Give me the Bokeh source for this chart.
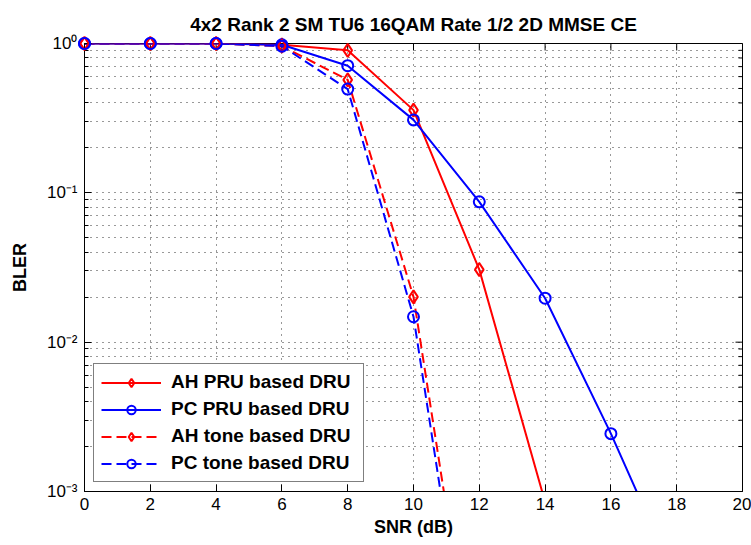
import math
from bokeh.plotting import figure
from bokeh.models import Range1d, FixedTicker, Legend, LegendItem
from bokeh.embed import file_html
from bokeh.resources import INLINE

# ---------------- data ----------------
snr_ah_pru = [0, 2, 4, 6, 8, 10, 12, 14]
bler_ah_pru = [1.0, 1.0, 1.0, 0.98, 0.90, 0.358, 0.0306, 0.00085]

snr_pc_pru = [0, 2, 4, 6, 8, 10, 12, 14, 16, 18]
bler_pc_pru = [1.0, 1.0, 1.0, 0.98, 0.71, 0.308, 0.087, 0.0197, 0.00244, 0.00025]

snr_ah_tone = [0, 2, 4, 6, 8, 10, 12]
bler_ah_tone = [1.0, 1.0, 1.0, 0.96, 0.571, 0.0201, 0.00003]

snr_pc_tone = [0, 2, 4, 6, 8, 10, 12]
bler_pc_tone = [1.0, 1.0, 1.0, 0.96, 0.495, 0.0148, 0.000021]

x_ticks = [0, 2, 4, 6, 8, 10, 12, 14, 16, 18, 20]
y_ticks = [1e-3, 1e-2, 1e-1, 1.0]
y_tick_labels = {1e-3: "10\u207b\u00b3", 1e-2: "10\u207b\u00b2", 1e-1: "10\u207b\u00b9", 1.0: "10\u2070"}
y_minor = [k * 10.0 ** e for e in (-3, -2, -1) for k in range(2, 10)]

title_text = "4x2 Rank 2 SM TU6 16QAM Rate 1/2 2D MMSE CE"
x_label = "SNR (dB)"
y_label = "BLER"
names = ["AH PRU based DRU", "PC PRU based DRU", "AH tone based DRU", "PC tone based DRU"]

FONT = "Liberation Sans"
X0, X1 = 0, 20
Y0, Y1 = 1e-3, 1.0

p = figure(width=751, height=545, y_axis_type="log",
           x_range=Range1d(X0, X1), y_range=Range1d(Y0, Y1),
           output_backend="svg", toolbar_location=None,
           min_border_left=84, min_border_right=9, min_border_top=43, min_border_bottom=54)
p.background_fill_color = "white"
p.border_fill_color = "white"
p.outline_line_color = "black"
p.outline_line_width = 1

p.title.text = title_text
p.title.align = "center"
p.title.text_font = FONT
p.title.text_font_size = "19px"
p.title.text_font_style = "bold"
p.title.text_color = "black"
p.title.standoff = 17

xt = FixedTicker(ticks=x_ticks, minor_ticks=[])
yt = FixedTicker(ticks=y_ticks, minor_ticks=y_minor)

xa = p.xaxis[0]
xa.ticker = xt
xa.axis_label = x_label
ya = p.yaxis[0]
ya.ticker = yt
ya.axis_label = y_label
ya.major_label_overrides = y_tick_labels

for ax in (xa, ya):
    ax.axis_line_color = "black"
    ax.major_tick_line_color = "black"
    ax.minor_tick_line_color = "black"
    ax.major_tick_in = 7
    ax.major_tick_out = 0
    ax.minor_tick_in = 4
    ax.minor_tick_out = 0
    ax.major_label_text_font = FONT
    ax.major_label_text_font_size = "17px"
    ax.major_label_text_color = "black"
    ax.axis_label_text_font = FONT
    ax.axis_label_text_font_size = "18px"
    ax.axis_label_text_font_style = "bold"
    ax.axis_label_text_color = "black"
    ax.major_label_standoff = 6
xa.axis_label_standoff = 4
ya.axis_label_standoff = 14
ya.major_label_standoff = 7

for g in (p.xgrid[0], p.ygrid[0]):
    g.grid_line_color = "black"
    g.grid_line_dash = "1 5"
    g.grid_line_width = 1
    g.grid_line_alpha = 0.8
p.xgrid[0].ticker = xt
p.ygrid[0].ticker = yt
p.ygrid[0].minor_grid_line_color = "black"
p.ygrid[0].minor_grid_line_dash = "1 5"
p.ygrid[0].minor_grid_line_alpha = 0.8

# inward tick marks on the top and right edges of the box (half of each dash is clipped away)
p.scatter(x_ticks, [Y1] * len(x_ticks), marker="dash", angle=math.pi / 2, size=14,
          line_color="black", line_width=1)
p.scatter([X1] * len(y_ticks), y_ticks, marker="dash", size=14, line_color="black", line_width=1)
p.scatter([X1] * len(y_minor), y_minor, marker="dash", size=8, line_color="black", line_width=1)

series = [
    (snr_ah_pru, bler_ah_pru, "#ff0000", "solid", "diamond", 13),
    (snr_pc_pru, bler_pc_pru, "#0000ff", "solid", "circle", 11),
    (snr_ah_tone, bler_ah_tone, "#ff0000", "10 5", "diamond", 13),
    (snr_pc_tone, bler_pc_tone, "#0000ff", "10 5", "circle", 11),
]
items = []
for (xs, ys, col, dash, mk, sz), nm in zip(series, names):
    r1 = p.line(xs, ys, line_color=col, line_width=2, line_dash=dash)
    # markers are drawn unclipped (like MATLAB) but only for points inside the axis limits
    vis = [(x, y) for x, y in zip(xs, ys) if Y0 <= y <= Y1 and X0 <= x <= X1]
    r2 = p.scatter([v[0] for v in vis], [v[1] for v in vis], marker=mk, size=sz,
                   fill_color=None, line_color=col, line_width=2, level="overlay")
    items.append(LegendItem(label=nm, renderers=[r1, r2]))

leg = Legend(items=items, location=(9, 9), padding=7, spacing=5, margin=0,
             glyph_width=60, glyph_height=21, label_height=21, label_standoff=10,
             label_width=185,
             label_text_font=FONT, label_text_font_size="19px", label_text_font_style="bold",
             label_text_color="black", border_line_color="black", border_line_width=1,
             background_fill_color="white", background_fill_alpha=1.0)
p.add_layout(leg, "center")

open("out.html", "w").write(file_html(p, INLINE))
